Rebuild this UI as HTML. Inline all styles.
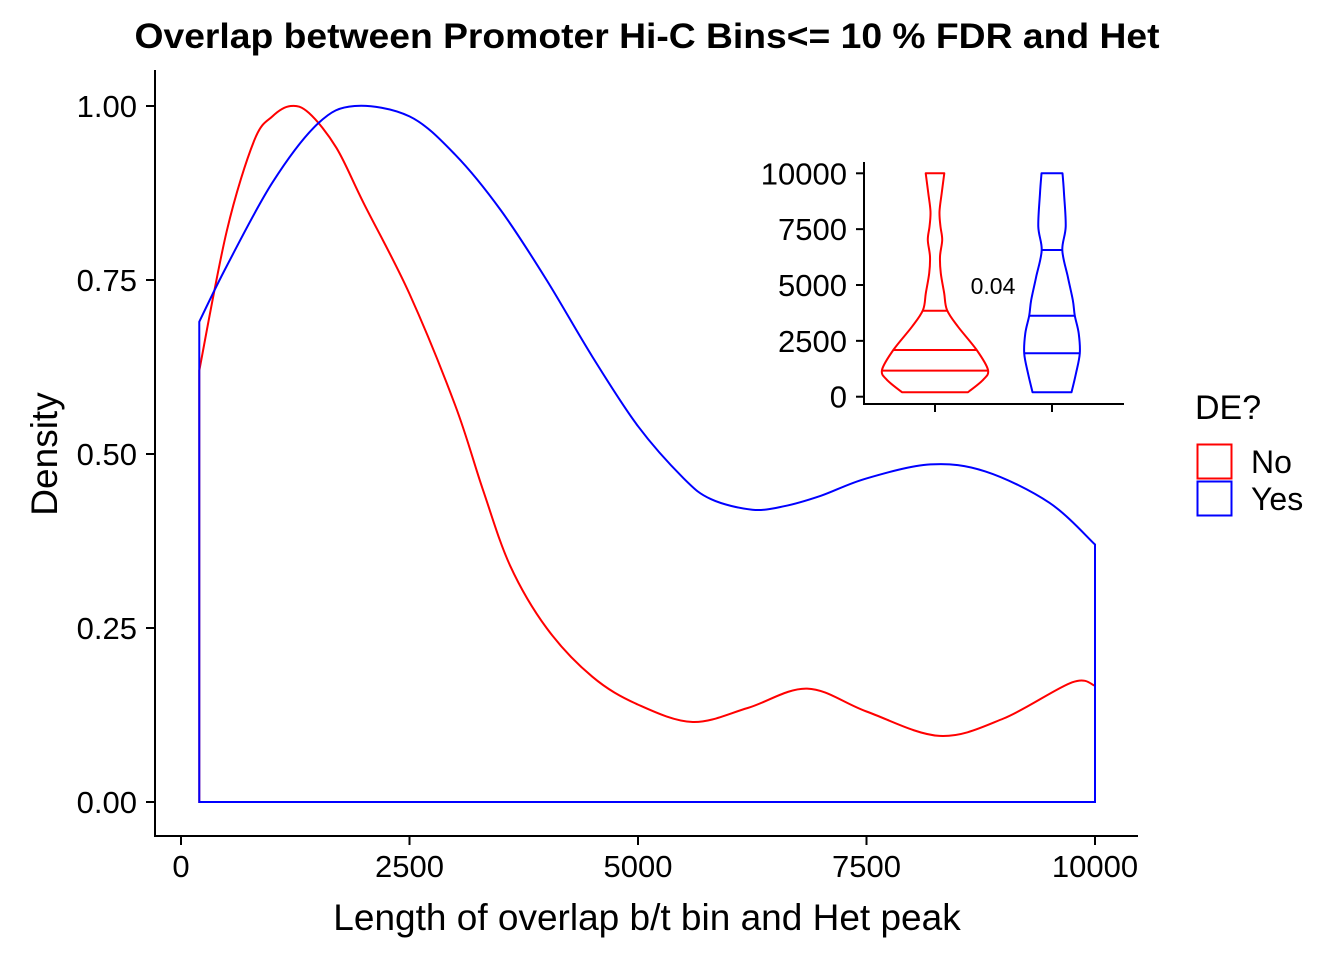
<!DOCTYPE html>
<html><head><meta charset="utf-8"><style>
html,body{margin:0;padding:0;background:#fff;}
svg{display:block;font-family:"Liberation Sans",Arial,sans-serif;}
</style></head><body>
<svg id="chart" width="1344" height="960" viewBox="0 0 1344 960">
<text x="647" y="48" text-anchor="middle" font-size="35" font-weight="bold" textLength="1025" lengthAdjust="spacingAndGlyphs">Overlap between Promoter Hi-C Bins&lt;= 10 % FDR and Het</text>
<g id="main"></g>
<g id="inset"></g>
<g>
<text x="1195" y="419" font-size="34">DE?</text>
<rect x="1197.5" y="444.5" width="34" height="34" fill="none" stroke="#ff0000" stroke-width="2"/>
<rect x="1197.5" y="481.5" width="34" height="34" fill="none" stroke="#0000ff" stroke-width="2"/>
<text x="1251" y="473" font-size="32">No</text>
<text x="1251" y="510" font-size="32">Yes</text>
</g>
</svg>
<script>
const xTicks=[0,2500,5000,7500,10000];
const yTicks=[0,0.25,0.5,0.75,1.0];
const yTickLabels=["0.00","0.25","0.50","0.75","1.00"];
const noX=[200,500,800,1000,1200,1400,1700,2000,2500,3000,3300,3600,4000,4500,5000,5600,6200,6850,7500,8300,9000,9750,10000];
const noY=[0.62,0.82,0.95,0.985,1.0,0.99,0.94,0.86,0.73,0.57,0.45,0.34,0.25,0.18,0.14,0.115,0.135,0.163,0.13,0.095,0.12,0.172,0.167];
const yesX=[200,500,1000,1500,1900,2500,3000,3500,4000,4500,5000,5500,5800,6250,6600,7000,7500,8200,8800,9500,10000];
const yesY=[0.69,0.77,0.89,0.975,1.0,0.985,0.93,0.85,0.75,0.64,0.54,0.465,0.435,0.42,0.425,0.44,0.465,0.485,0.475,0.43,0.37];
const insetTicks=[0,2500,5000,7500,10000];
const vNoVal=[200,750,1195,2090,3133,3881,4628,5524,6267,7014,7610,8281,9105,10000];
const vNoW=[33,48,53,41.7,23,12,9.2,5.8,5,7.2,5.5,4.5,6.7,9.3];
const vNoQ=[1165,2090,3850];
const vYesVal=[200,1047,1943,2838,3626,4329,5372,6567,7610,9105,10000];
const vYesW=[19.5,24,27.8,26.7,22.8,20.8,15.8,10.3,13.7,12,10.5];
const vYesQ=[1943,3626,6567];
const pLabel="0.04";

const NS="http://www.w3.org/2000/svg";
function mk(tag,attrs,parent){const e=document.createElementNS(NS,tag);for(const k in attrs)e.setAttribute(k,attrs[k]);parent.appendChild(e);return e;}
const X=v=>181+v*(1095-181)/10000;
const Y=v=>802-v*(802-106);
function spline(pts){
 let d='';
 for(let i=0;i<pts.length-1;i++){
  const p0=pts[Math.max(0,i-1)],p1=pts[i],p2=pts[i+1],p3=pts[Math.min(pts.length-1,i+2)];
  const c1=[p1[0]+(p2[0]-p0[0])/6,p1[1]+(p2[1]-p0[1])/6],c2=[p2[0]-(p3[0]-p1[0])/6,p2[1]-(p3[1]-p1[1])/6];
  d+=`C${c1[0].toFixed(1)},${c1[1].toFixed(1)} ${c2[0].toFixed(1)},${c2[1].toFixed(1)} ${p2[0].toFixed(1)},${p2[1].toFixed(1)}`;
 }
 return d;
}
const main=document.getElementById('main');
let a=mk('path',{d:'M155,70V836H1138',fill:'none',stroke:'#000','stroke-width':2},main);


xTicks.forEach(t=>{
 let l=mk('line',{x1:X(t),x2:X(t),y1:836,y2:845,stroke:'#000','stroke-width':2},main);
 
 
 let tx=mk('text',{x:X(t),y:877,'text-anchor':'middle','font-size':31,fill:'#000'},main);tx.textContent=t;
 
 
});
yTicks.forEach((t,i)=>{
 let l=mk('line',{x1:146,x2:155,y1:Y(t),y2:Y(t),stroke:'#000','stroke-width':2},main);
 
 
 let tx=mk('text',{x:137,y:Y(t)+11,'text-anchor':'end','font-size':31,fill:'#000'},main);tx.textContent=yTickLabels[i];
 
 
});
let xt=mk('text',{x:647,y:930,'text-anchor':'middle','font-size':37},main);xt.textContent='Length of overlap b/t bin and Het peak';


let yt=mk('text',{x:0,y:0,'text-anchor':'middle','font-size':37,transform:'translate(57,454) rotate(-90)'},main);yt.textContent='Density';


function curve(xs,ys){
 const pts=xs.map((x,i)=>[X(x),Y(ys[i])]);
 let d=`M${X(xs[0])},${Y(0)}L${pts[0][0]},${pts[0][1]}`+spline(pts);
 d+=`L${X(xs[xs.length-1])},${Y(0)}Z`;return d;
}
let pn=mk('path',{d:curve(noX,noY),fill:'none',stroke:'#ff0000','stroke-width':2},main);


let py=mk('path',{d:curve(yesX,yesY),fill:'none',stroke:'#0000ff','stroke-width':2},main);



const ins=document.getElementById('inset');
const IY=v=>396.7-v*0.02234;
let ia=mk('path',{d:'M864,162V404H1124',fill:'none',stroke:'#000','stroke-width':2},ins);


insetTicks.forEach(t=>{
 let l=mk('line',{x1:856,x2:864,y1:IY(t),y2:IY(t),stroke:'#000','stroke-width':2},ins);
 
 
 let tx=mk('text',{x:847,y:IY(t)+11,'text-anchor':'end','font-size':31},ins);tx.textContent=t;
 
 
});
[935,1052].forEach(cx=>{
 let l=mk('line',{x1:cx,x2:cx,y1:404,y2:412,stroke:'#000','stroke-width':2},ins);
 
 
});
function violin(cx,vals,ws,qs,col,name){
 const right=vals.map((v,i)=>[cx+ws[i],IY(v)]);
 const left=vals.map((v,i)=>[cx-ws[i],IY(v)]).reverse();
 let d=`M${right[0][0]},${right[0][1]}`+spline(right)+`L${left[0][0]},${left[0][1]}`+spline(left)+'Z';
 let p=mk('path',{d:d,fill:'none',stroke:col,'stroke-width':2,'stroke-linejoin':'round'},ins);
 
 
 qs.forEach(q=>{
  let w=0;
  for(let i=0;i<vals.length-1;i++){if(q>=vals[i]&&q<=vals[i+1]){const f=(q-vals[i])/(vals[i+1]-vals[i]);w=ws[i]+f*(ws[i+1]-ws[i]);}}
  let l=mk('line',{x1:cx-w,x2:cx+w,y1:IY(q),y2:IY(q),stroke:col,'stroke-width':2},ins);
  
  
 });
}
violin(935,vNoVal,vNoW,vNoQ,'#ff0000','violin-no');
violin(1052,vYesVal,vYesW,vYesQ,'#0000ff','violin-yes');
let pl=mk('text',{x:993,y:294,'text-anchor':'middle','font-size':23},ins);pl.textContent=pLabel;


</script>
</body></html>
